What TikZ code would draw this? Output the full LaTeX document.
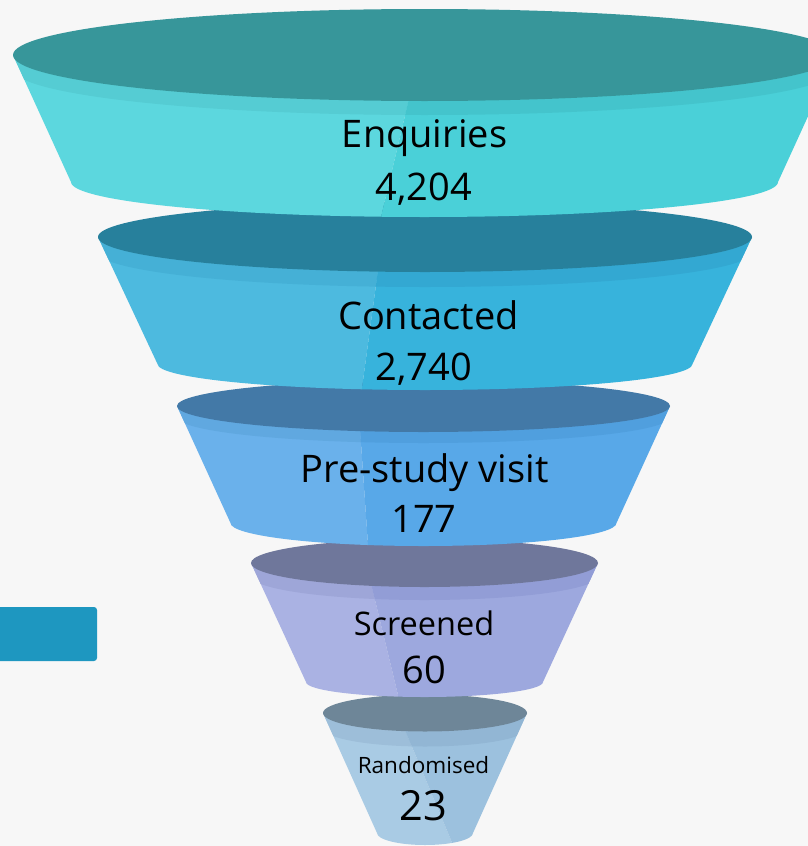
\documentclass[tikz,border=0pt]{standalone}
\usepackage{fontspec}
\setmainfont{Open Sans}
\usetikzlibrary{calc}
\definecolor{bg}{HTML}{F7F7F7}
\definecolor{tab}{HTML}{1E97C0}
% segment 1
\definecolor{top1}{HTML}{37969A}\definecolor{L1}{HTML}{5CD7DE}\definecolor{R1}{HTML}{4AD0D8}
\definecolor{BL1}{HTML}{55CCD3}\definecolor{BR1}{HTML}{44C4CC}
% segment 2
\definecolor{top2}{HTML}{27809C}\definecolor{L2}{HTML}{4DBADF}\definecolor{R2}{HTML}{37B3DC}
\definecolor{BL2}{HTML}{45B0D6}\definecolor{BR2}{HTML}{33A8D2}
% segment 3
\definecolor{top3}{HTML}{4379A7}\definecolor{L3}{HTML}{6AB1EB}\definecolor{R3}{HTML}{58A8E8}
\definecolor{BL3}{HTML}{60A8E0}\definecolor{BR3}{HTML}{509FDE}
% segment 4
\definecolor{top4}{HTML}{6F779B}\definecolor{L4}{HTML}{AAB2E3}\definecolor{R4}{HTML}{9DA8DE}
\definecolor{BL4}{HTML}{9EA6D8}\definecolor{BR4}{HTML}{929DD6}
% segment 5
\definecolor{top5}{HTML}{6E8698}\definecolor{L5}{HTML}{A9CBE4}\definecolor{R5}{HTML}{9CC1DE}
\definecolor{BL5}{HTML}{9DBED9}\definecolor{BR5}{HTML}{92B6D4}
% #1 idx, #2 cx, #3 ty, #4 rx, #5 ry, #6 by, #7 brx, #8 bry, #9 h/ax/ay/bx/by
\newcommand\funnelpart[9]{%
  \foreach \hh/\qax/\qay/\qbx/\qby in {#9}{%
    \coordinate (dA) at ($(\qax,\qay)!-4!(\qbx,\qby)$);
    \coordinate (dB) at ($(\qax,\qay)!5!(\qbx,\qby)$);
    \begin{scope}
      \clip ({#2-#4},#3) -- ({#2-#7},#6)
        arc[start angle=180,end angle=360,x radius=#7pt,y radius=#8pt]
        -- ({#2+#4},#3) -- cycle;
      % left half
      \begin{scope}
        \clip (dA) -- (dB) -- ($(dB)+(-1200,0)$) -- ($(dA)+(-1200,0)$) -- cycle;
        \fill[L#1] (-100,-100) rectangle (1000,1000);
        \fill[BL#1] ({#2-#4},#3)
          arc[start angle=180,end angle=360,x radius=#4pt,y radius=#5pt]
          -- ++(0,\hh)
          arc[start angle=360,end angle=180,x radius=#4pt,y radius=#5pt] -- cycle;
      \end{scope}
      % right half
      \begin{scope}
        \clip (dA) -- (dB) -- ($(dB)+(1200,0)$) -- ($(dA)+(1200,0)$) -- cycle;
        \fill[R#1] (-100,-100) rectangle (1000,1000);
        \fill[BR#1] ({#2-#4},#3)
          arc[start angle=180,end angle=360,x radius=#4pt,y radius=#5pt]
          -- ++(0,\hh)
          arc[start angle=360,end angle=180,x radius=#4pt,y radius=#5pt] -- cycle;
      \end{scope}
    \end{scope}
    \fill[top#1] (#2,#3) ellipse[x radius=#4pt,y radius=#5pt];
  }%
}
\begin{document}
\begin{tikzpicture}[x=1pt,y=-1pt,
  bigtxt/.style={anchor=base,inner sep=0pt,text=black,font=\fontsize{38}{38}\selectfont},
  midtxt/.style={anchor=base,inner sep=0pt,text=black,font=\fontsize{32.5}{32.5}\selectfont},
  smalltxt/.style={anchor=base,inner sep=0pt,text=black,font=\fontsize{22.5}{22.5}\selectfont},
  hugetxt/.style={anchor=base,inner sep=0pt,text=black,font=\fontsize{41.5}{41.5}\selectfont}]
\useasboundingbox (0,0) rectangle (808,846);
\fill[bg] (0,0) rectangle (808,846);
\clip (0,0) rectangle (808,846);
% left tab
\fill[tab,rounded corners=3pt] (-10,607) rectangle (97,661);
% funnel, bottom first
\funnelpart{5}{425}{713}{102}{18.5}{833}{48}{12}{15/410/742/453/845}
\funnelpart{4}{424.5}{563}{173.5}{24}{682}{118.5}{15}{13/375/600/398/695}
\funnelpart{3}{423.5}{406}{246.5}{26}{523}{193}{23}{11/361/443/368/545}
\funnelpart{2}{425}{237}{327}{35}{364}{267.5}{26}{15/376/285/362/388}
\funnelpart{1}{424.5}{55}{411.5}{46}{182}{353.5}{35}{14/408/103/381/217}
% labels
\node[bigtxt] (t1) at (424.5,147) {Enquiries};
\node[bigtxt] (n1) at (424,200) {4,204};
\node[bigtxt] (t2) at (428.5,329) {Contacted};
\node[bigtxt] (n2) at (424,380) {2,740};
\node[bigtxt] (t3) at (424.5,482) {Pre-study visit};
\node[bigtxt] (n3) at (424,532) {177};
\node[midtxt] (t4) at (424,635) {Screened};
\node[bigtxt] (n4) at (424.5,683) {60};
\node[smalltxt] (t5) at (423.5,773) {Randomised};
\node[hugetxt] (n5) at (423.5,820) {23};
\end{tikzpicture}
\end{document}
